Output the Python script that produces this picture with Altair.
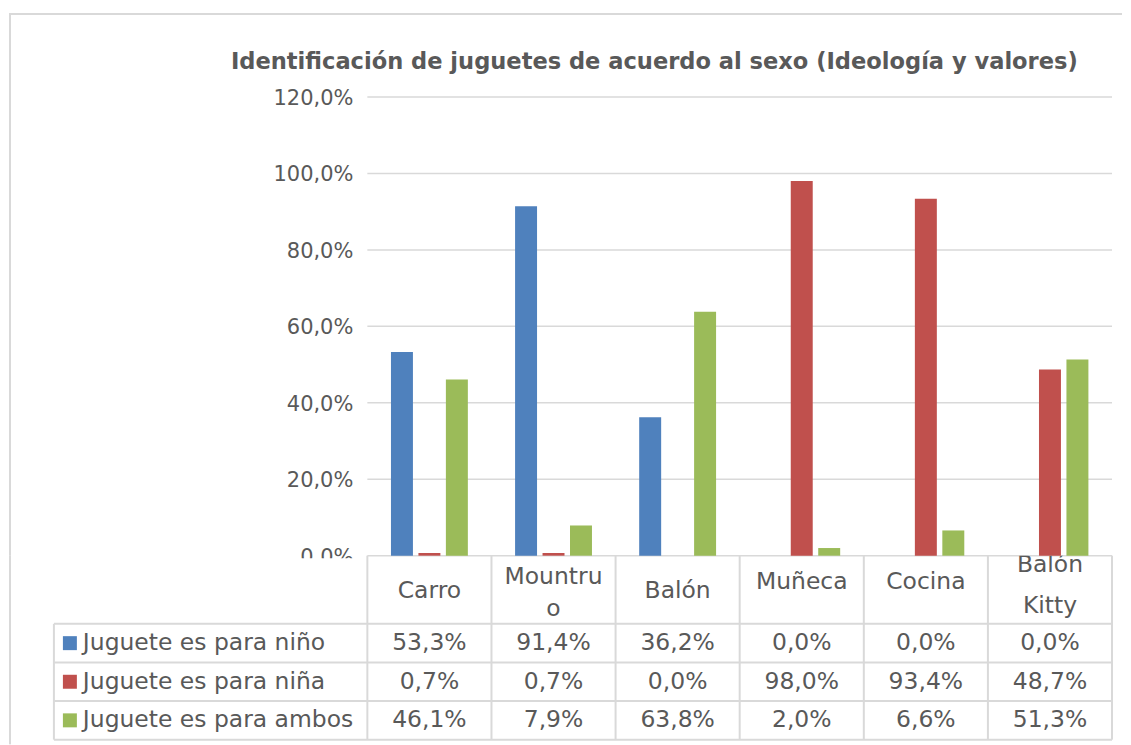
import altair as alt
import pandas as pd

# ---------------- data ----------------
categories = ["Carro", "Mountruo", "Balón", "Muñeca", "Cocina", "Balón Kitty"]
header_lines = [["Carro"], ["Mountru", "o"], ["Balón"], ["Muñeca"], ["Cocina"], ["Balón", "Kitty"]]
series = ["Juguete es para niño", "Juguete es para niña", "Juguete es para ambos"]
nino = [53.3, 91.4, 36.2, 0.0, 0.0, 0.0]
nina = [0.7, 0.7, 0.0, 98.0, 93.4, 48.7]
ambos = [46.1, 7.9, 63.8, 2.0, 6.6, 51.3]
colors = ["#4f81bd", "#c0504d", "#9bbb59"]
tick_values = [0, 20, 40, 60, 80, 100, 120]
tick_labels = ["0,0%", "20,0%", "40,0%", "60,0%", "80,0%", "100,0%", "120,0%"]
title_text = "Identificación de juguetes de acuerdo al sexo (Ideología y valores)"

# ---------------- tables ----------------
rows = []
for s, vals in zip(series, [nino, nina, ambos]):
    for c, v in zip(categories, vals):
        rows.append({"cat": c, "ser": s, "val": v,
                     "lab": f"{v:.1f}".replace(".", ",") + "%"})
df = pd.DataFrame(rows)
ticks_df = pd.DataFrame({"v": tick_values, "lab": tick_labels})
cat_df = pd.DataFrame({"cat": categories})
ser_df = pd.DataFrame({"ser": series})
head_df = pd.DataFrame({"cat": categories, "lines": header_lines})
one = pd.DataFrame({"t": [title_text]})

FONT = "DejaVu Sans"
GRAY = "#595959"
LINE = "#d9d9d9"

yscale = alt.Scale(domain=[0, 120], range=[548, 88.5], nice=False, zero=True)
xscale = alt.Scale(domain=categories, range=[359, 1105], paddingInner=0, paddingOuter=0)
offscale = alt.Scale(domain=series, paddingInner=0.2, paddingOuter=0.86)
rowscale = alt.Scale(domain=series, range=[68.3, 184.3], paddingInner=0, paddingOuter=0)
colscale = alt.Scale(domain=series, range=colors)

# ---------------- top view: plot ----------------
frame_top = alt.Chart(one).mark_rule(color=LINE, strokeWidth=2).encode(
    x=alt.value(0), x2=alt.value(1115), y=alt.value(5.3))
frame_left = alt.Chart(one).mark_rule(color=LINE, strokeWidth=2).encode(
    x=alt.value(1), y=alt.value(5.3), y2=alt.value(548))
title = alt.Chart(one).mark_text(font=FONT, fontSize=22.6, fontWeight="bold", color=GRAY,
                                 align="center", baseline="alphabetic").encode(
    text="t:N", x=alt.value(646.5), y=alt.value(60))
grid = alt.Chart(ticks_df).mark_rule(color=LINE, strokeWidth=1.5).encode(
    y=alt.Y("v:Q", scale=yscale, axis=None), x=alt.value(359), x2=alt.value(1105))
tick_text = alt.Chart(ticks_df).mark_text(font=FONT, fontSize=21, color=GRAY,
                                          align="right", baseline="middle", dy=2).encode(
    y=alt.Y("v:Q", scale=yscale, axis=None), x=alt.value(345), text="lab:N")
bars = alt.Chart(df).mark_bar().encode(
    x=alt.X("cat:N", scale=xscale, sort=categories, axis=None),
    xOffset=alt.XOffset("ser:N", scale=offscale, sort=series),
    y=alt.Y("val:Q", scale=yscale, axis=None),
    color=alt.Color("ser:N", scale=colscale, legend=None),
)
top = alt.layer(frame_top, frame_left, title, grid, tick_text, bars).properties(
    width=1115, height=548)

# ---------------- bottom view: data table ----------------
mask = alt.Chart(one).mark_rect(color="white").encode(
    x=alt.value(200), x2=alt.value(356), y=alt.value(2.5), y2=alt.value(60))
frame_left2 = alt.Chart(one).mark_rule(color=LINE, strokeWidth=2).encode(
    x=alt.value(1), y=alt.value(0), y2=alt.value(189))
hlines = alt.Chart(ser_df).mark_rule(color=LINE, strokeWidth=2).encode(
    y=alt.Y("ser:N", scale=rowscale, bandPosition=0, axis=None),
    x=alt.value(45), x2=alt.value(1105))
hbottom = alt.Chart(ser_df).transform_filter(
    alt.datum.ser == series[-1]).mark_rule(color=LINE, strokeWidth=2).encode(
    y=alt.Y("ser:N", scale=rowscale, bandPosition=1, axis=None),
    x=alt.value(45), x2=alt.value(1105))
vlines = alt.Chart(cat_df).mark_rule(color=LINE, strokeWidth=2).encode(
    x=alt.X("cat:N", scale=xscale, bandPosition=0, axis=None),
    y=alt.value(0), y2=alt.value(184.3))
vright = alt.Chart(cat_df).transform_filter(
    alt.datum.cat == categories[-1]).mark_rule(color=LINE, strokeWidth=2).encode(
    x=alt.X("cat:N", scale=xscale, bandPosition=1, axis=None),
    y=alt.value(0), y2=alt.value(184.3))
vleft = alt.Chart(one).mark_rule(color=LINE, strokeWidth=2).encode(
    x=alt.value(45), y=alt.value(68.3), y2=alt.value(184.3))
squares = alt.Chart(ser_df).mark_square(size=196, opacity=1).encode(
    y=alt.Y("ser:N", scale=rowscale, axis=None), x=alt.value(61),
    color=alt.Color("ser:N", scale=colscale, legend=None))
row_labels = alt.Chart(ser_df).mark_text(font=FONT, fontSize=23.5, color=GRAY,
                                         align="left", baseline="middle").encode(
    y=alt.Y("ser:N", scale=rowscale, axis=None), x=alt.value(74), text="ser:N")
cells = alt.Chart(df).mark_text(font=FONT, fontSize=23.5, color=GRAY,
                                align="center", baseline="middle").encode(
    x=alt.X("cat:N", scale=xscale, axis=None),
    y=alt.Y("ser:N", scale=rowscale, axis=None), text="lab:N")


def header(cats, ybase, lh):
    return alt.Chart(head_df).transform_filter(
        alt.FieldOneOfPredicate(field="cat", oneOf=cats)).mark_text(
        font=FONT, fontSize=23.5, color=GRAY, align="center", baseline="alphabetic",
        lineHeight=lh, clip=True).encode(
        x=alt.X("cat:N", scale=xscale, axis=None), y=alt.value(ybase), text="lines:N")


h1 = header(["Carro", "Balón"], 42.5, 30)
h2 = header(["Mountruo"], 28, 32)
h3 = header(["Muñeca", "Cocina"], 33, 30)
h4 = header(["Balón Kitty"], 16.5, 40.5)

bottom = alt.layer(mask, frame_left2, hlines, hbottom, vlines, vright, vleft,
                   squares, row_labels, cells, h1, h2, h3, h4).properties(
    width=1115, height=185)

chart = alt.vconcat(top, bottom, spacing=0, bounds="flush").properties(
    padding=0).configure_view(strokeWidth=0)

chart.save("out.html", embed_options={"renderer": "svg", "actions": False})
